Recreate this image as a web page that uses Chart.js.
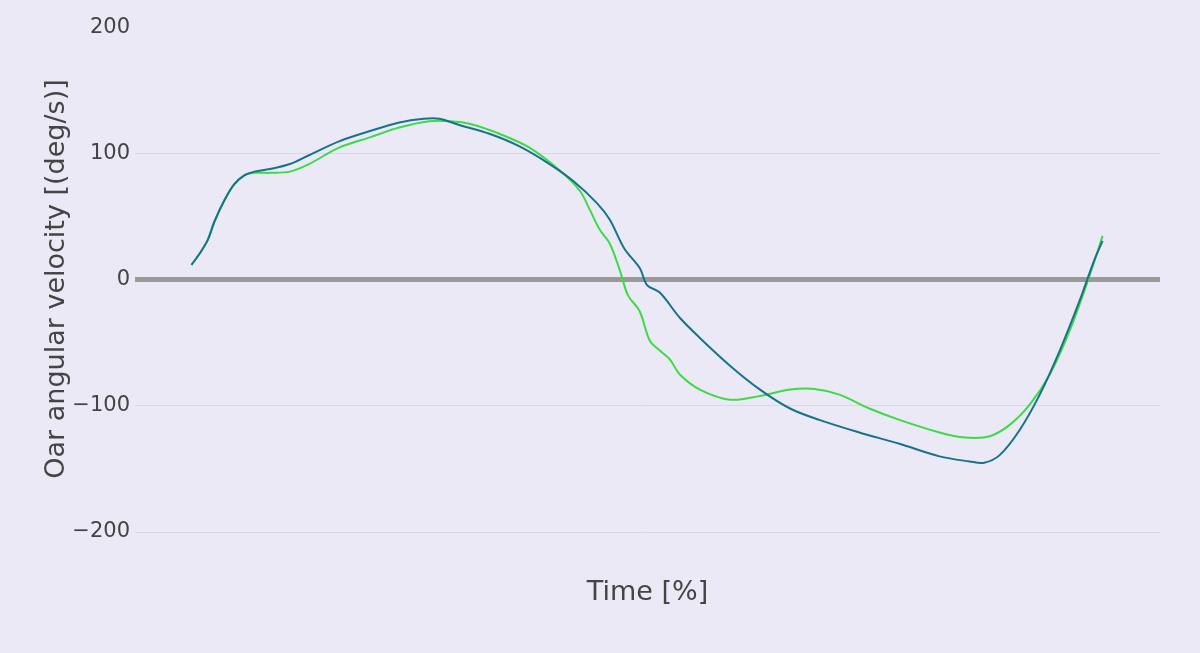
<!DOCTYPE html>
<html>
<head>
<meta charset="utf-8">
<script src="https://cdn.jsdelivr.net/npm/chart.js@4"></script>
<style>
  html, body { margin: 0; padding: 0; background: #ebe9f6; }
  #wrap { width: 1200px; height: 653px; }
</style>
</head>
<body>
<div id="wrap"><canvas id="chart" width="1200" height="653"></canvas></div>
<script>
// Time [%] and velocity values
const blueX = [0, 0.9, 1.8, 2.5, 3.6, 4.7, 5.8, 6.9, 8.6, 10.8, 12.9, 16.2, 19.5, 22.8, 25.5, 27.2, 29.4, 32.7, 36, 39.3, 42, 44.5, 45.9, 47.5, 49.2, 50, 51.4, 53.6, 55.8, 59.1, 62.4, 65.7, 68.9, 73.3, 77.7, 82.1, 85.4, 87, 88.7, 90.9, 93.1, 95.3, 97.5, 99.1, 100];
const blueY = [12, 21, 32, 46, 63, 76, 83, 86, 88, 92, 99, 110, 118, 125, 128, 128, 123, 116, 106, 92, 78, 61, 48, 25, 9.5, -4, -10, -30, -46, -68, -87, -102, -111, -121, -130, -140, -144, -145, -139, -119, -91, -56, -16, 16, 31];

const greenX = [0, 0.9, 1.8, 2.5, 3.6, 4.7, 5.8, 6.9, 8.6, 10.8, 12.9, 16.2, 19.5, 22.8, 26.1, 28.3, 30.5, 33.8, 37.1, 40.4, 42.6, 43.7, 44.8, 45.9, 47, 47.9, 49.2, 50.3, 51.4, 52.5, 53.6, 55.8, 59.1, 62.4, 65.7, 68.4, 71.1, 74.4, 77.7, 82.1, 84.9, 87.6, 89.8, 92, 94.2, 96.4, 98.6, 100];
const greenY = [12, 21, 32, 46, 63, 76, 83, 85, 85, 86, 92, 105, 113, 121, 126, 126, 124, 116, 105, 87, 71, 56, 40, 29, 8, -12, -25, -48, -56, -63, -75, -87, -95, -92, -87, -86.5, -91, -102, -111, -121, -125, -124, -115, -99, -75, -40, 4, 35];

const yTicks = [-200, -100, 0, 100, 200];

const toPoints = (xs, ys) => xs.map((x, i) => ({ x, y: ys[i] }));

const FONT = 'DejaVu Sans';

// page background
const bgPlugin = {
  id: 'bg',
  beforeDraw(c) {
    const ctx = c.ctx;
    ctx.save();
    ctx.fillStyle = '#ebe9f6';
    ctx.fillRect(0, 0, c.width, c.height);
    ctx.restore();
  }
};

new Chart(document.getElementById('chart'), {
  type: 'line',
  data: {
    datasets: [
      {
        data: toPoints(blueX, blueY),
        borderColor: '#17738a',
        borderWidth: 2,
        pointRadius: 0,
        tension: 0.35,
        fill: false,
      },
      {
        data: toPoints(greenX, greenY),
        borderColor: '#3dda48',
        borderWidth: 2,
        pointRadius: 0,
        tension: 0.35,
        fill: false,
      },
    ],
  },
  plugins: [bgPlugin],
  options: {
    responsive: false,
    animation: false,
    layout: { padding: { top: 3, right: 40, left: 0, bottom: 0 } },
    plugins: { legend: { display: false }, tooltip: { enabled: false } },
    scales: {
      x: {
        type: 'linear',
        min: -6.2,
        max: 106.3,
        grid: { display: false },
        border: { display: false },
        ticks: { display: false },
        title: {
          display: true,
          text: 'Time [%]',
          color: '#444',
          font: { family: FONT, size: 27 },
          padding: { top: 0, bottom: 44 },
        },
        afterFit(scale) { scale.height = 98; },
      },
      y: {
        min: -218.25,
        max: 219.8,
        afterBuildTicks(scale) { scale.ticks = yTicks.map(v => ({ value: v })); },
        border: { display: false },
        grid: {
          drawTicks: false,
          color: ctx => {
            const v = ctx.tick && ctx.tick.value;
            if (v === 0) return '#999999';
            if (v === 200) return 'rgba(0,0,0,0)';
            return '#d9d8e4';
          },
          lineWidth: ctx => (ctx.tick && ctx.tick.value === 0 ? 5 : 1),
        },
        ticks: {
          color: '#444',
          padding: 5,
          font: { family: FONT, size: 21 },
          callback: v => String(v).replace('-', '\u2212'),
        },
        title: {
          display: true,
          text: 'Oar angular velocity [(deg/s)]',
          color: '#444',
          font: { family: FONT, size: 27 },
          padding: { top: 41, bottom: 0 },
        },
        afterFit(scale) {
          scale.width = 135;
          scale.paddingTop = 0;
          scale.paddingBottom = 0;
        },
      },
    },
  },
});
</script>
</body>
</html>
